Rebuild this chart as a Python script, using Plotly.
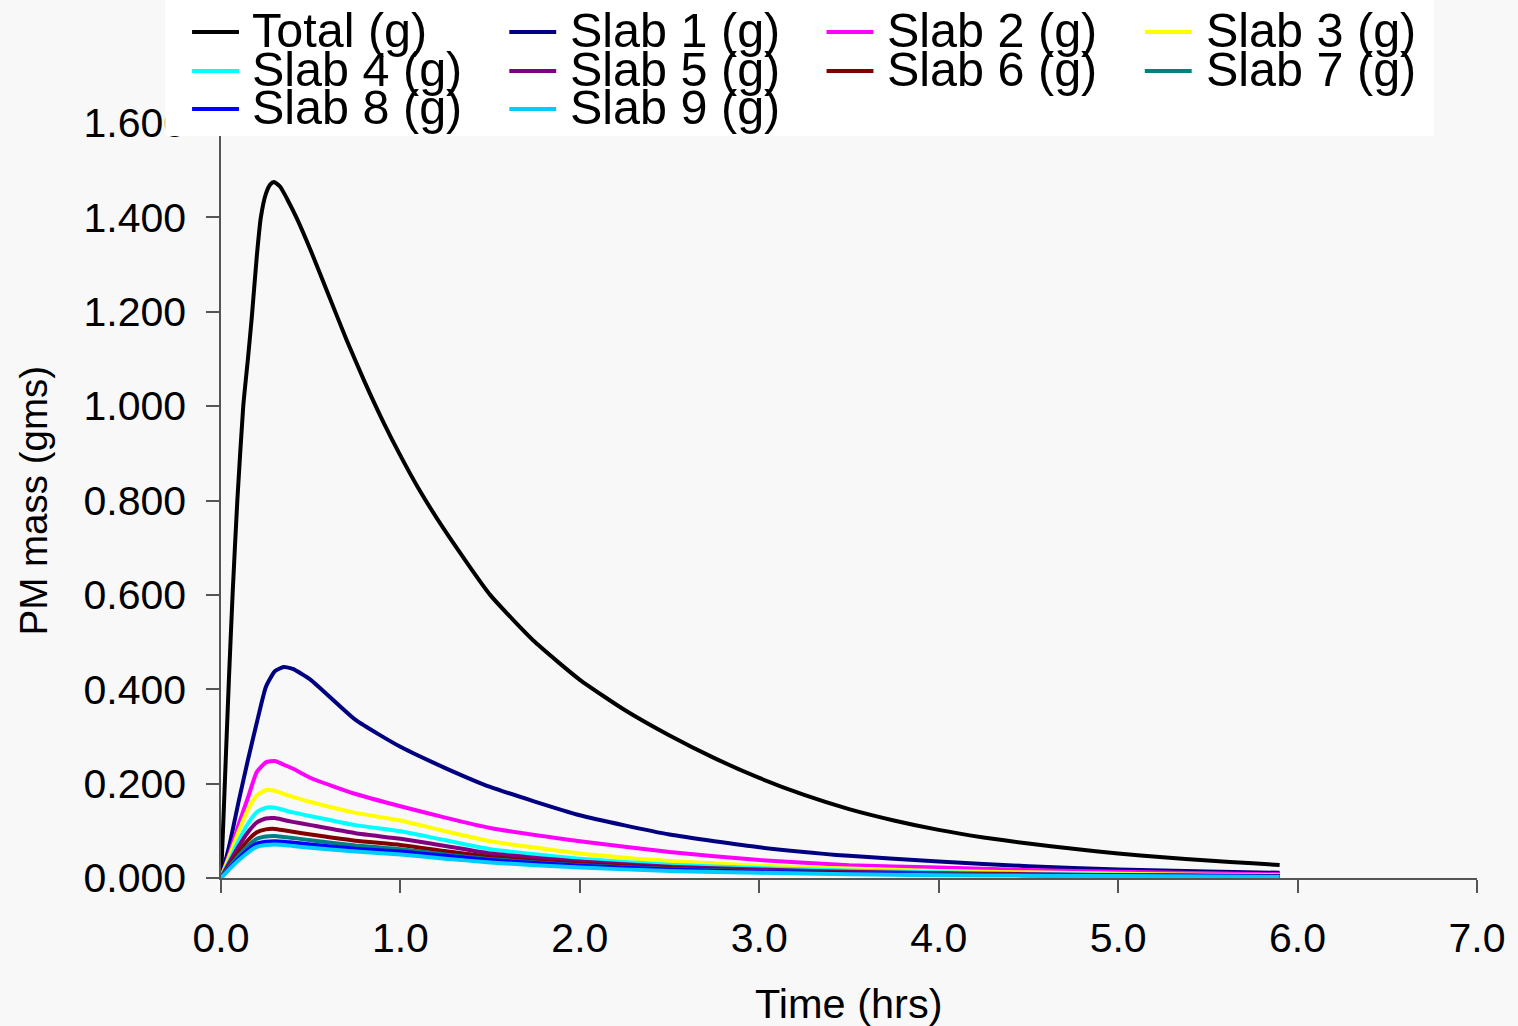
import plotly.graph_objects as go

# ---------------- data ----------------
total_time = [0.0, 0.011, 0.022, 0.044, 0.065, 0.091, 0.124, 0.15, 0.172, 0.20, 0.222, 0.25,
              0.275, 0.295, 0.33, 0.37, 0.42, 0.50, 0.60, 0.70, 0.80, 0.90, 1.00, 1.10,
              1.25, 1.50, 1.75, 2.00, 2.25, 2.50, 2.75, 3.00, 3.25, 3.50, 3.75, 4.00,
              4.25, 4.50, 4.75, 5.00, 5.25, 5.50, 5.75, 5.90]
total_mass = [0.0, 0.10, 0.208, 0.42, 0.604, 0.80, 1.00, 1.10, 1.19, 1.32, 1.40, 1.45,
              1.47, 1.475, 1.465, 1.438, 1.40, 1.33, 1.235, 1.14, 1.052, 0.970, 0.895, 0.826,
              0.735, 0.600, 0.500, 0.420, 0.356, 0.302, 0.254, 0.212, 0.176, 0.146, 0.122, 0.102,
              0.086, 0.073, 0.062, 0.052, 0.044, 0.037, 0.031, 0.0275]

slab_time = [0.0, 0.05, 0.10, 0.15, 0.20, 0.25, 0.30, 0.35, 0.40, 0.50, 0.75, 1.00,
             1.25, 1.50, 2.00, 2.50, 3.00, 3.50, 4.00, 4.50, 5.00, 5.50, 5.90]

slab1 = [0, 0.075, 0.165, 0.25, 0.33, 0.405, 0.438, 0.447, 0.443, 0.42, 0.335, 0.278,
         0.233, 0.193, 0.133, 0.092, 0.065, 0.047, 0.035, 0.025, 0.018, 0.014, 0.011]
slab2 = [0, 0.055, 0.115, 0.17, 0.225, 0.245, 0.248, 0.240, 0.232, 0.212, 0.178, 0.152,
         0.128, 0.106, 0.078, 0.055, 0.038, 0.027, 0.022, 0.017, 0.013, 0.010, 0.008]
slab3 = [0, 0.05, 0.10, 0.145, 0.175, 0.186, 0.185, 0.178, 0.172, 0.161, 0.138, 0.122,
         0.099, 0.078, 0.052, 0.036, 0.026, 0.020, 0.015, 0.012, 0.009, 0.007, 0.006]
slab4 = [0, 0.04, 0.08, 0.115, 0.14, 0.149, 0.149, 0.144, 0.139, 0.131, 0.112, 0.099,
         0.080, 0.061, 0.041, 0.028, 0.021, 0.016, 0.012, 0.009, 0.007, 0.006, 0.005]
slab5 = [0, 0.035, 0.068, 0.097, 0.118, 0.126, 0.127, 0.123, 0.119, 0.112, 0.095, 0.083,
         0.068, 0.052, 0.035, 0.024, 0.018, 0.013, 0.010, 0.008, 0.006, 0.005, 0.004]
slab6 = [0, 0.029, 0.056, 0.08, 0.097, 0.103, 0.104, 0.101, 0.098, 0.092, 0.079, 0.070,
         0.057, 0.045, 0.030, 0.021, 0.015, 0.011, 0.009, 0.007, 0.006, 0.005, 0.004]
slab7 = [0, 0.025, 0.048, 0.068, 0.083, 0.088, 0.089, 0.087, 0.085, 0.080, 0.069, 0.061,
         0.050, 0.040, 0.027, 0.019, 0.014, 0.010, 0.008, 0.006, 0.005, 0.004, 0.003]
slab8 = [0, 0.022, 0.042, 0.06, 0.073, 0.077, 0.078, 0.077, 0.075, 0.071, 0.062, 0.056,
         0.047, 0.038, 0.026, 0.018, 0.013, 0.010, 0.007, 0.006, 0.005, 0.004, 0.003]
slab9 = [0, 0.02, 0.038, 0.054, 0.066, 0.070, 0.071, 0.070, 0.068, 0.064, 0.056, 0.050,
         0.041, 0.033, 0.022, 0.015, 0.011, 0.008, 0.006, 0.005, 0.004, 0.003, 0.002]

series_names = ["Total (g)", "Slab 1 (g)", "Slab 2 (g)", "Slab 3 (g)", "Slab 4 (g)",
                "Slab 5 (g)", "Slab 6 (g)", "Slab 7 (g)", "Slab 8 (g)", "Slab 9 (g)"]
series_colors = ["#000000", "#000080", "#FF00FF", "#FFFF00", "#00FFFF",
                 "#800080", "#800000", "#008080", "#0000FF", "#00CCFF"]
slab_values = [slab1, slab2, slab3, slab4, slab5, slab6, slab7, slab8, slab9]

y_ticks = [0.0, 0.2, 0.4, 0.6, 0.8, 1.0, 1.2, 1.4, 1.6]
x_ticks = [0, 1, 2, 3, 4, 5, 6, 7]

# ---------------- layout helpers ----------------
W, H = 1518, 1026
ML, MR, MT, MB = 221, 38, 123, 148
PW = W - ML - MR
PH = H - MT - MB
FONT = "Liberation Sans, Arial, sans-serif"
LW = 4


def px_x(px):
    return (px - ML) / PW


def px_y(py):
    return (H - MB - py) / PH


fig = go.Figure()
fig.add_trace(go.Scatter(x=total_time, y=total_mass, mode="lines", name=series_names[0],
                         line=dict(color=series_colors[0], width=LW, shape="spline",
                                   smoothing=0.5),
                         showlegend=False))
for name, color, vals in zip(series_names[1:], series_colors[1:], slab_values):
    fig.add_trace(go.Scatter(x=slab_time, y=vals, mode="lines", name=name,
                             line=dict(color=color, width=LW, shape="spline", smoothing=0.5),
                             showlegend=False))

axis_common = dict(showline=True, linecolor="#555555", linewidth=1.5, ticks="outside",
                   ticklen=13, tickwidth=1.5, tickcolor="#555555", showgrid=False,
                   zeroline=False, tickfont=dict(family=FONT, size=41, color="black"))

fig.update_xaxes(range=[0, 7], tickvals=x_ticks, tickformat=".1f", ticklabelstandoff=10,
                 **axis_common)
fig.update_yaxes(range=[0, 1.6], tickvals=y_ticks, tickformat=".3f", ticklabelstandoff=12,
                 **axis_common)

shapes = []
annotations = []
# legend box
shapes.append(dict(type="rect", xref="paper", yref="paper", layer="above",
                   x0=px_x(165), x1=px_x(1437), y0=px_y(136), y1=px_y(-2),
                   fillcolor="white", line=dict(width=0)))
col_line_x = [192, 510, 828, 1147]
col_text_x = [252, 571, 889, 1208]
row_y = [32, 71, 109]
for i, (name, color) in enumerate(zip(series_names, series_colors)):
    r, c = divmod(i, 4)
    shapes.append(dict(type="line", xref="paper", yref="paper", layer="above",
                       x0=px_x(col_line_x[c]), x1=px_x(col_line_x[c] + 47),
                       y0=px_y(row_y[r]), y1=px_y(row_y[r]),
                       line=dict(color=color, width=LW)))
    annotations.append(dict(text=name, xref="paper", yref="paper", showarrow=False,
                            x=px_x(col_text_x[c] - 2), y=px_y(row_y[r] - 2),
                            xanchor="left", yanchor="middle",
                            font=dict(family=FONT, size=48.5, color="black")))

annotations.append(dict(text="PM mass (gms)", xref="paper", yref="paper", showarrow=False,
                        x=px_x(33), y=px_y(500), textangle=-90,
                        xanchor="center", yanchor="middle",
                        font=dict(family=FONT, size=38.5, color="black")))
annotations.append(dict(text="Time (hrs)", xref="paper", yref="paper", showarrow=False,
                        x=px_x(850), y=px_y(1003), xanchor="center", yanchor="middle",
                        font=dict(family=FONT, size=41.5, color="black")))

fig.update_layout(width=W, height=H, autosize=False,
                  margin=dict(l=ML, r=MR, t=MT, b=MB, pad=0),
                  paper_bgcolor="#F8F8F8", plot_bgcolor="#F8F8F8",
                  shapes=shapes, annotations=annotations, showlegend=False)

fig.write_html("out.html")
